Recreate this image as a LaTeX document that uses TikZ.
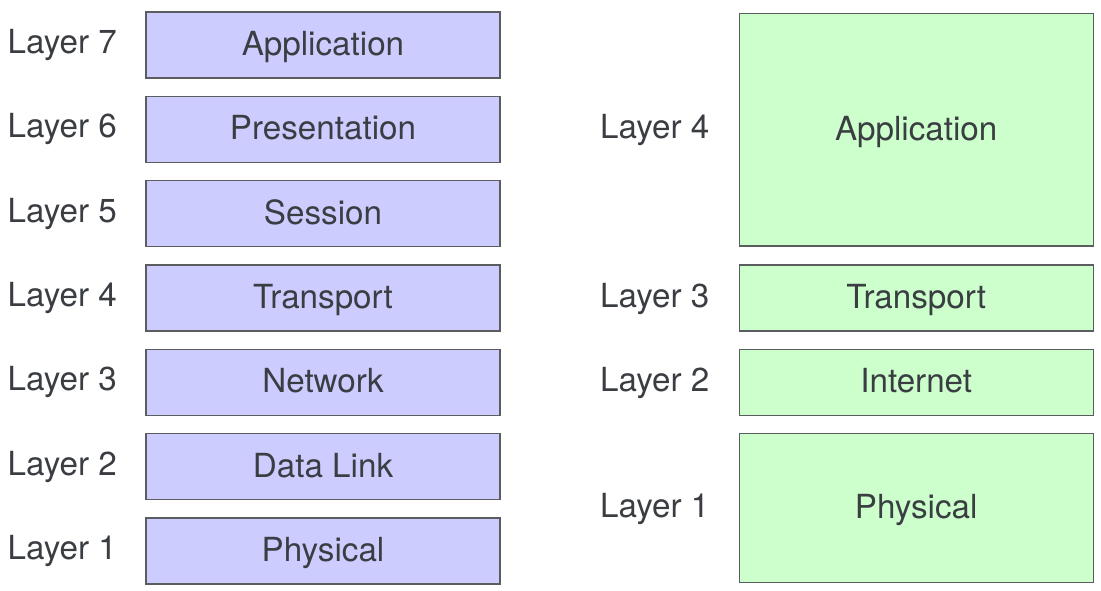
\documentclass[tikz,border=0pt]{standalone}
\usepackage{fontspec}
\setmainfont{TeX Gyre Heros}
\definecolor{txt}{HTML}{3A3D42}
\definecolor{edge}{HTML}{5A5C60}
\definecolor{osifill}{HTML}{CCCCFF}
\definecolor{tcpfill}{HTML}{CCFFCC}
\tikzset{
  layerbox/.style={draw=edge, line width=1.4pt, inner sep=0pt, outer sep=0pt,
    minimum width=354pt, text height=25.5pt, text depth=4.5pt, text=txt,
    font=\fontsize{33.2}{38}\selectfont},
  osibox/.style={layerbox, fill=osifill, minimum height=66pt},
  tcpbox/.style={layerbox, fill=tcpfill},
  lbl/.style={anchor=base west, inner sep=0pt, text=txt, font=\fontsize{33.2}{38}\selectfont}
}
\begin{document}
\begin{tikzpicture}[x=1pt,y=-1pt]
\useasboundingbox (0,0) rectangle (1101,591);
% OSI model
\node[osibox] (o7) at (323,45) {Application};
\node[osibox] (o6) at (323,129.3) {Presentation};
\node[osibox] (o5) at (323,213.6) {Session};
\node[osibox] (o4) at (323,297.9) {Transport};
\node[osibox] (o3) at (323,382.2) {Network};
\node[osibox] (o2) at (323,466.5) {Data Link};
\node[osibox] (o1) at (323,550.8) {Physical};
\node[lbl] (l7) at (7.5,53.5) {Layer 7};
\node[lbl] (l6) at (7.5,137.8) {Layer 6};
\node[lbl] (l5) at (7.5,222.1) {Layer 5};
\node[lbl] (l4) at (7.5,306.4) {Layer 4};
\node[lbl] (l3) at (7.5,390.7) {Layer 3};
\node[lbl] (l2) at (7.5,475) {Layer 2};
\node[lbl] (l1) at (7.5,559.3) {Layer 1};
% TCP/IP model
\node[tcpbox, minimum height=232.7pt] (t4) at (916.2,129.7) {Application};
\node[tcpbox, minimum height=66pt] (t3) at (916.2,297.9) {Transport};
\node[tcpbox, minimum height=66pt] (t2) at (916.2,382.2) {Internet};
\node[tcpbox, minimum height=149.5pt] (t1) at (916.2,508) {Physical};
\node[lbl] (r4) at (600,139) {Layer 4};
\node[lbl] (r3) at (600,307) {Layer 3};
\node[lbl] (r2) at (600,391.5) {Layer 2};
\node[lbl] (r1) at (600,517) {Layer 1};
\end{tikzpicture}
\end{document}
